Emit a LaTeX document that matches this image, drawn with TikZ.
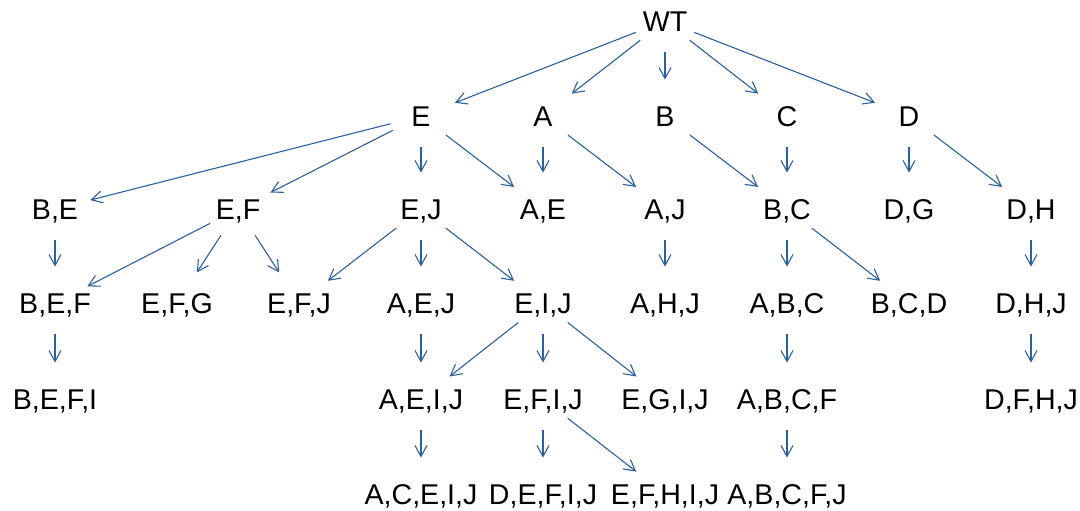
\documentclass[tikz,border=0pt]{standalone}
\usepackage{fontspec}
\setmainfont{Liberation Sans}
\usetikzlibrary{arrows.meta}
\definecolor{edgeblue}{RGB}{44,95,158}
\newcommand{\setname}[1]{\makebox[0pt]{#1}}
\tikzset{
  state/.style={circle, minimum size=31pt, inner sep=0pt, font=\fontsize{14.3}{16}\selectfont, text height=10.3pt, text depth=0pt},
  link/.style={draw=edgeblue, line width=0.55pt, -{Straight Barb[length=5.5pt,width=6pt]}, shorten >=2.5pt}
}
\begin{document}
\begin{tikzpicture}[x=0.5pt,y=-0.5pt]
  \useasboundingbox (0,0) rectangle (1080,510);
  % sets, row by row
  \foreach \n/\x/\y/\t in {wt/665/21/WT,
      e/421/116/E, a/543/116/A, b/665/116/B, c/787/116/C, d/909/116/D,
      be/55/209/{B,E}, ef/238/209/{E,F}, ej/421/209/{E,J}, ae/543/209/{A,E},
      aj/665/209/{A,J}, bc/787/209/{B,C}, dg/909/209/{D,G}, dh/1031/209/{D,H},
      bef/55/303/{B,E,F}, efg/177/303/{E,F,G}, efj/299/303/{E,F,J}, aej/421/303/{A,E,J},
      eij/543/303/{E,I,J}, ahj/665/303/{A,H,J}, abc/787/303/{A,B,C}, bcd/909/303/{B,C,D},
      dhj/1031/303/{D,H,J},
      befi/55/399/{B,E,F,I}, aeij/421/399/{A,E,I,J}, efij/543/399/{E,F,I,J},
      egij/665/399/{E,G,I,J}, abcf/787/399/{A,B,C,F}, dfhj/1031/399/{D,F,H,J},
      aceij/421/494/{A,C,E,I,J}, defij/543/494/{D,E,F,I,J}, efhij/665/494/{E,F,H,I,J},
      abcfj/787/494/{A,B,C,F,J}} {
    \node[state] (\n) at (\x,\y) {\setname{\t}};
  }
  % links
  \foreach \s/\t in {wt/e, wt/a, wt/b, wt/c, wt/d,
      e/be, e/ef, e/ej, e/ae, a/ae, a/aj, b/bc, c/bc, d/dg, d/dh,
      be/bef, ef/bef, ef/efg, ef/efj, ej/efj, ej/aej, ej/eij, aj/ahj,
      bc/abc, bc/bcd, dh/dhj,
      bef/befi, aej/aeij, eij/aeij, eij/efij, eij/egij, abc/abcf, dhj/dfhj,
      aeij/aceij, efij/defij, efij/efhij, abcf/abcfj} {
    \draw[link] (\s) -- (\t);
  }
\end{tikzpicture}
\end{document}
